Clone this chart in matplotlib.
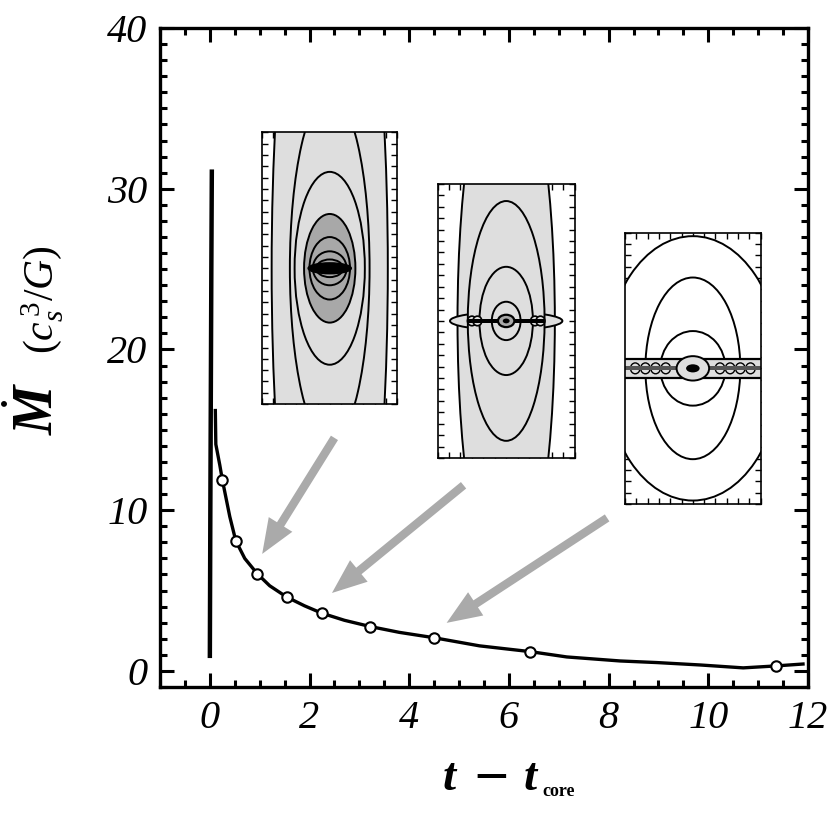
import matplotlib
matplotlib.use('Agg')
import matplotlib.pyplot as plt
from matplotlib.patches import Ellipse, Rectangle
import numpy as np

# accretion history
spike_t = [0.0, 0.01, 0.03, 0.04]
spike_mdot = [0.8, 10.0, 25.0, 31.2]

curve_t = [0.11, 0.12, 0.2, 0.25, 0.4, 0.52, 0.7, 0.95, 1.2, 1.54, 1.9, 2.24, 2.7,
           3.22, 3.8, 4.49, 5.41, 6.43, 7.16, 8.23, 8.97, 9.84, 10.7, 11.35, 11.9]
curve_mdot = [16.2, 14.1, 12.8, 11.9, 9.6, 8.1, 7.0, 6.05, 5.3, 4.6, 4.05, 3.6, 3.15,
              2.76, 2.4, 2.07, 1.56, 1.2, 0.87, 0.62, 0.52, 0.37, 0.19, 0.31, 0.43]

marker_t = [0.25, 0.52, 0.95, 1.54, 2.24, 3.22, 4.49, 6.43, 11.35]
marker_mdot = [11.9, 8.1, 6.06, 4.6, 3.59, 2.76, 2.07, 1.2, 0.31]

x_ticks = [0, 2, 4, 6, 8, 10, 12]
x_labels = ['0', '2', '4', '6', '8', '10', '12']
y_ticks = [0, 10, 20, 30, 40]
y_labels = ['0', '10', '20', '30', '40']

# arrows: (tail_t, tail_mdot, head_t, head_mdot)
arrows = [(2.5, 14.5, 1.05, 7.28),
          (5.09, 11.55, 2.45, 4.85),
          (7.97, 9.52, 4.75, 2.99)]

# inset boxes in data coords: [t0, mdot0, width, height]
inset_boxes = [[1.05, 16.6, 2.71, 16.9],
               [4.57, 13.25, 2.75, 17.05],
               [8.33, 10.39, 2.72, 16.87]]

LIGHT = '#dedede'
MID = '#a8a8a8'
ARROW = '#aaaaaa'

# nested contours of each snapshot: half-width, half-height, fill
inset1_hw = [0.86, 0.59, 0.52, 0.38, 0.30, 0.25, 0.20]
inset1_hh = [6.0, 2.57, 1.42, 0.80, 0.46, 0.25, 0.13]
inset1_fill = [LIGHT, LIGHT, LIGHT, MID, MID, MID, MID]

inset2_hw = [0.71, 0.82, 0.56, 0.39, 0.21]
inset2_hh = [4.0, 0.13, 1.75, 0.79, 0.28]
inset2_fill = [LIGHT, LIGHT, LIGHT, LIGHT, LIGHT]
inset2_rings = [-0.5, -0.42, 0.42, 0.5]

inset3_hw = [1.3, 0.70, 0.48]
inset3_hh = [1.95, 1.34, 0.55]
inset3_fill = ['white', 'white', 'white']
inset3_rings = [-0.85, -0.7, -0.55, -0.4, 0.4, 0.55, 0.7, 0.85]

plt.rcParams['font.family'] = ['Liberation Serif', 'DejaVu Serif']
plt.rcParams['mathtext.fontset'] = 'custom'
plt.rcParams['mathtext.it'] = 'Liberation Serif:italic'
plt.rcParams['mathtext.bf'] = 'Liberation Serif:italic:bold'
plt.rcParams['mathtext.rm'] = 'Liberation Serif'

fig = plt.figure(figsize=(8.3, 8.35), dpi=100)
ax = fig.add_axes([160 / 830, 1 - 687 / 835, 648 / 830, 659 / 835])

ax.plot(spike_t, spike_mdot, color='k', lw=3.2, solid_capstyle='butt')
ax.plot(curve_t, curve_mdot, color='k', lw=2.4)
ax.plot(marker_t, marker_mdot, 'o', ms=7.5, mfc='white', mec='k', mew=1.5, zorder=5)

for t0, m0, t1, m1 in arrows:
    ax.annotate('', xy=(t1, m1), xytext=(t0, m0),
                arrowprops=dict(arrowstyle='simple,head_length=1.25,head_width=1.0,tail_width=0.3',
                                mutation_scale=20, fc=ARROW, ec='none',
                                shrinkA=0, shrinkB=0))

ax.set_xlim(-1, 12)
ax.set_ylim(-1, 40)
ax.set_xticks(x_ticks)
ax.set_xticklabels(x_labels)
ax.set_yticks(y_ticks)
ax.set_yticklabels(y_labels)
ax.set_xticks(np.arange(-1, 12.01, 0.5), minor=True)
ax.set_yticks(np.arange(-1, 40.01, 1), minor=True)
ax.tick_params(which='both', direction='in', top=True, right=True, width=2.2)
ax.tick_params(which='major', length=10, labelsize=29, pad=9)
ax.tick_params(which='minor', length=5)
for lab in ax.get_xticklabels() + ax.get_yticklabels():
    lab.set_fontstyle('italic')
for s in ax.spines.values():
    s.set_linewidth(2.4)


def make_inset(box):
    ia = ax.inset_axes(box, transform=ax.transData)
    ia.set_xlim(-1, 1)
    ia.set_ylim(-2, 2)
    ia.set_xticks(np.arange(-1, 1.01, 1 / 6))
    ia.set_yticks(np.arange(-2, 2.01, 1 / 6))
    ia.tick_params(direction='in', length=4, width=1, top=True, right=True,
                   labelbottom=False, labelleft=False)
    for s in ia.spines.values():
        s.set_linewidth(1.2)
        s.set_zorder(20)
    return ia


def rings(ia, hws, hhs, fills):
    for i, (hw, hh, fc) in enumerate(zip(hws, hhs, fills)):
        ia.add_patch(Ellipse((0, 0), 2 * hw, 2 * hh, fc=fc, ec='k', lw=1.4, zorder=2 + i))


# snapshot 1
ia1 = make_inset(inset_boxes[0])
rings(ia1, inset1_hw, inset1_hh, inset1_fill)
ia1.add_patch(Ellipse((0, 0), 0.64, 0.16, fc='k', ec='k', zorder=12))

# snapshot 2
ia2 = make_inset(inset_boxes[1])
rings(ia2, inset2_hw, inset2_hh, inset2_fill)
for xr in inset2_rings:
    ia2.add_patch(Ellipse((xr, 0), 0.13, 0.14, fc=LIGHT, ec='k', lw=1.2, zorder=10))
ia2.add_patch(Rectangle((-0.55, -0.035), 1.1, 0.07, fc='k', ec='none', zorder=11))
ia2.add_patch(Ellipse((0, 0), 0.24, 0.18, fc=MID, ec='k', lw=1.6, zorder=12))
ia2.add_patch(Ellipse((0, 0), 0.1, 0.07, fc='k', zorder=13))

# snapshot 3
ia3 = make_inset(inset_boxes[2])
rings(ia3, inset3_hw, inset3_hh, inset3_fill)
ia3.add_patch(Rectangle((-1.1, -0.14), 2.2, 0.28, fc=LIGHT, ec='k', lw=1.6, zorder=8))
for xr in inset3_rings:
    ia3.add_patch(Ellipse((xr, 0), 0.14, 0.16, fc=LIGHT, ec='k', lw=1.0, zorder=9))
ia3.add_patch(Rectangle((-1.1, -0.03), 2.2, 0.06, fc='#555555', ec='none', zorder=10))
ia3.add_patch(Ellipse((0, 0), 0.48, 0.36, fc=LIGHT, ec='k', lw=1.4, zorder=11))
ia3.add_patch(Ellipse((0, 0), 0.2, 0.12, fc='k', zorder=12))

# axis titles
fig.text(443 / 830, 1 - 790 / 835, 't', fontsize=34, fontweight='bold',
         fontstyle='italic', ha='left', va='baseline')
fig.text(491 / 830, 1 - 789 / 835, '\u2013', fontsize=40, fontweight='bold',
         ha='center', va='baseline')
fig.text(524 / 830, 1 - 790 / 835, 't', fontsize=34, fontweight='bold',
         fontstyle='italic', ha='left', va='baseline')
fig.text(542 / 830, 1 - 796 / 835, 'core', fontsize=13, fontweight='bold',
         ha='left', va='baseline')
fig.text(38 / 830, 1 - 408 / 835, r'$\dot{\mathbf{M}}$', fontsize=40, rotation=90,
         ha='center', va='center')
fig.text(42 / 830, 1 - 300 / 835, r'$(c_s^{\,3}/G)$', fontsize=30, rotation=90,
         ha='center', va='center')

fig.savefig('out.png', dpi=100)
